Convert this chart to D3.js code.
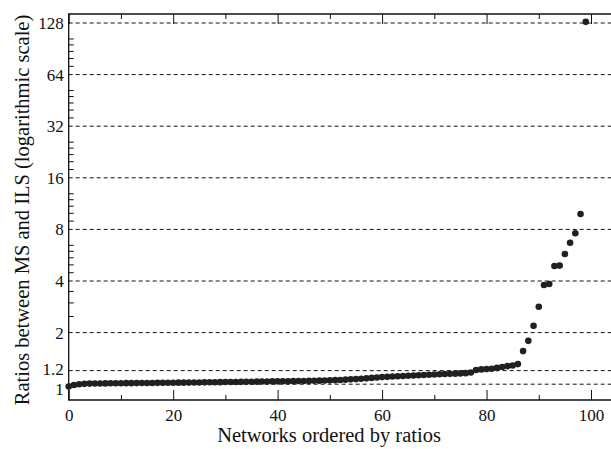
<!DOCTYPE html>
<html lang="en">
<head>
  <meta charset="UTF-8" />
  <title>ratios scatter</title>
  <script src="https://d3js.org/d3.v7.min.js" charset="utf-8"></script>
  <style>
    body { margin: 0; background: #fff; }
    text { font-family: "Liberation Serif", "Times New Roman", serif; fill: #111; }
  </style>
</head>
<body>
<script type="text/javascript">

const WIDTH = 611;
const HEIGHT = 449;
const LEFT = 68.7, TOP = 14, BOTTOM = 400;

// ratios, networks sorted by ratio (index = network number)
const ratios = [
  0.97, 0.99, 1.0, 1.005, 1.008, 1.01, 1.01, 1.011, 1.012, 1.012,
  1.013, 1.014, 1.014, 1.015, 1.016, 1.016, 1.017, 1.018, 1.018, 1.019,
  1.02, 1.021, 1.021, 1.022, 1.023, 1.024, 1.025, 1.026, 1.027, 1.028,
  1.029, 1.03, 1.031, 1.032, 1.033, 1.034, 1.035, 1.036, 1.037, 1.038,
  1.039, 1.04, 1.041, 1.042, 1.043, 1.044, 1.045, 1.047, 1.049, 1.051,
  1.053, 1.056, 1.059, 1.063, 1.067, 1.071, 1.076, 1.082, 1.088, 1.094,
  1.1, 1.104, 1.108, 1.112, 1.116, 1.12, 1.124, 1.128, 1.132, 1.136,
  1.14, 1.143, 1.146, 1.149, 1.152, 1.156, 1.16, 1.17, 1.21, 1.22,
  1.225, 1.23, 1.245, 1.26, 1.275, 1.285, 1.31, 1.56, 1.79, 2.19,
  2.83, 3.79, 3.84, 4.89, 4.92, 5.75, 6.69, 7.59, 9.84, 130
];
const xMajor = [0, 20, 40, 60, 80, 100];
const xMinor = [10, 30, 50, 70, 90];
const yMajor = [1, 1.2, 2, 4, 8, 16, 32, 64, 128];
const yMinor = [2.5, 3, 3.5,
  4.5, 5, 5.5, 6, 6.5,
  9, 10, 11, 12, 13,
  18, 20, 22, 24, 26,
  36, 40, 44, 48, 52,
  72, 80, 88, 96, 104];

var svg = d3.select("body")
  .append("svg")
    .attr("width", WIDTH)
    .attr("height", HEIGHT);

const x = d3.scaleLinear().domain([0, 100]).range([LEFT, 591]);
const y = d3.scaleLog().base(2).domain([1, 128]).range([384.2, 23]);

// dashed grid
svg.append("g")
  .selectAll("line")
  .data(yMajor)
  .join("line")
    .attr("x1", LEFT)
    .attr("x2", WIDTH)
    .attr("y1", d => y(d))
    .attr("y2", d => y(d))
    .attr("stroke", "#111")
    .attr("stroke-width", 1)
    .attr("stroke-dasharray", "4,3");

// frame (no right side)
svg.append("path")
  .attr("d", `M${WIDTH},${TOP}H${LEFT}V${BOTTOM}H${WIDTH}`)
  .attr("fill", "none")
  .attr("stroke", "#111")
  .attr("stroke-width", 1.3);

// bottom axis
svg.append("g")
  .attr("transform", `translate(0,${BOTTOM})`)
  .call(d3.axisBottom(x).tickValues(xMajor).tickSize(-10).tickPadding(9).tickFormat(d3.format("d")))
  .call(g => g.select(".domain").remove())
  .call(g => g.selectAll(".tick line").attr("stroke", "#111"))
  .call(g => g.selectAll(".tick text").attr("font-size", "17px").attr("font-family", "Liberation Serif"));
svg.append("g")
  .attr("transform", `translate(0,${BOTTOM})`)
  .call(d3.axisBottom(x).tickValues(xMinor).tickSize(-5).tickFormat(""))
  .call(g => g.select(".domain").remove())
  .call(g => g.selectAll(".tick line").attr("stroke", "#111"));

// top axis
svg.append("g")
  .attr("transform", `translate(0,${TOP})`)
  .call(d3.axisTop(x).tickValues(xMajor).tickSize(-10).tickFormat(""))
  .call(g => g.select(".domain").remove())
  .call(g => g.selectAll(".tick line").attr("stroke", "#111"));
svg.append("g")
  .attr("transform", `translate(0,${TOP})`)
  .call(d3.axisTop(x).tickValues(xMinor).tickSize(-5).tickFormat(""))
  .call(g => g.select(".domain").remove())
  .call(g => g.selectAll(".tick line").attr("stroke", "#111"));

// left axis
svg.append("g")
  .attr("transform", `translate(${LEFT},0)`)
  .call(d3.axisLeft(y).tickValues(yMajor).tickSize(0).tickPadding(5).tickFormat(d => String(d)))
  .call(g => g.select(".domain").remove())
  .call(g => g.selectAll(".tick text")
    .attr("font-size", "17px")
    .attr("font-family", "Liberation Serif")
    .attr("dy", d => d === 1 ? "0.62em" : d === 1.2 ? "0.22em" : "0.32em"));
svg.append("g")
  .attr("transform", `translate(${LEFT},0)`)
  .call(d3.axisLeft(y).tickValues(yMinor).tickSize(-5).tickFormat(""))
  .call(g => g.select(".domain").remove())
  .call(g => g.selectAll(".tick line").attr("stroke", "#111"));

// points
svg.append("g")
  .selectAll("circle")
  .data(ratios)
  .join("circle")
    .attr("cx", (d, i) => x(i))
    .attr("cy", d => y(d))
    .attr("r", 3.3)
    .attr("fill", "#231f20");

// labels
svg.append("text")
  .attr("x", 329)
  .attr("y", 442)
  .attr("text-anchor", "middle")
  .attr("font-size", "20.5px")
  .text("Networks ordered by ratios");
svg.append("text")
  .attr("transform", `translate(29,210) rotate(-90)`)
  .attr("text-anchor", "middle")
  .attr("font-size", "20.5px")
  .text("Ratios between MS and ILS (logarithmic scale)");

</script>
</body>
</html>
